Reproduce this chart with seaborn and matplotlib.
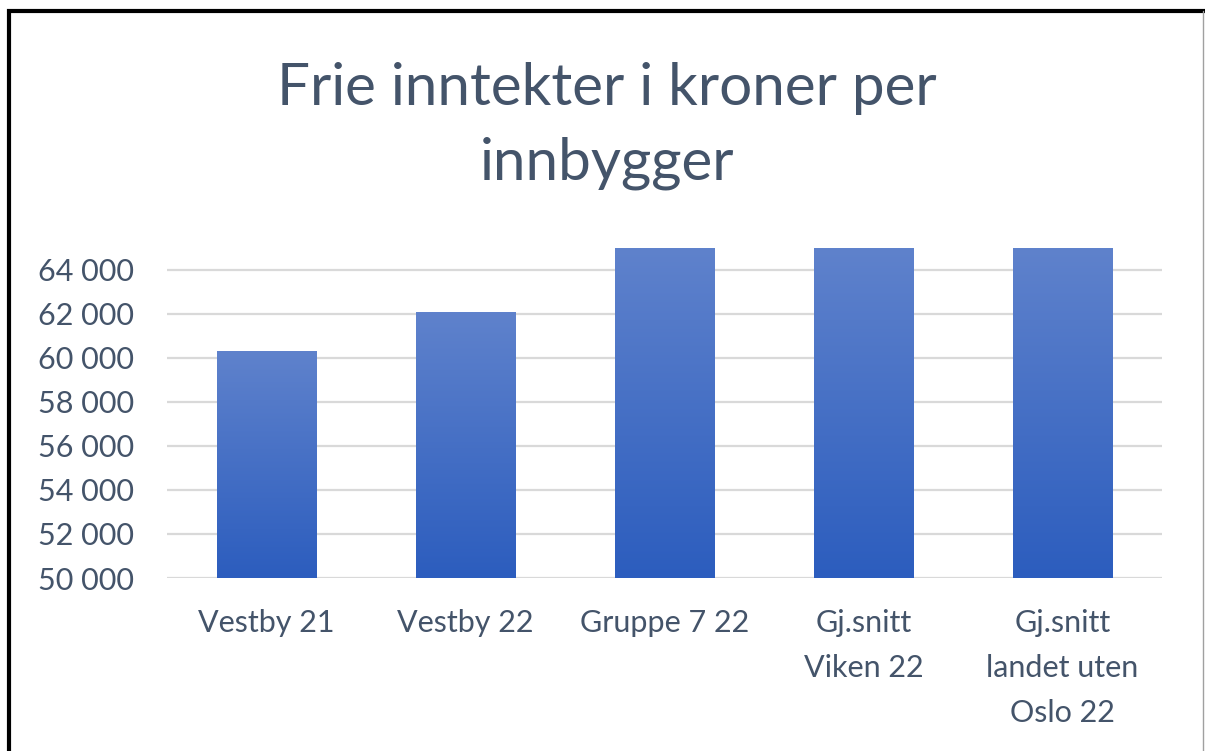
import numpy as np
import pandas as pd
import matplotlib
matplotlib.use("Agg")
import matplotlib.pyplot as plt
import seaborn as sns
from matplotlib.ticker import FuncFormatter, MultipleLocator
from matplotlib.colors import LinearSegmentedColormap
from matplotlib.patches import Rectangle
from matplotlib.lines import Line2D

categories = ["Vestby 21", "Vestby 22", "Gruppe 7 22",
              "Gj.snitt\nViken 22", "Gj.snitt\nlandet uten\nOslo 22"]
values = [60300, 62050, 65000, 65000, 65000]
title = "Frie inntekter i kroner per\ninnbygger"

text_color = "#44546A"
grid_color = "#D9D9D9"
bar_top = "#5F82CC"
bar_bottom = "#2C5DBE"
y_min, y_max = 50000, 65000

sns.set_theme(style="white")
plt.rcParams["font.family"] = ["Lato", "DejaVu Sans"]

df = pd.DataFrame({"kategori": categories, "verdi": values})

fig = plt.figure(figsize=(12.05, 7.51), dpi=100)
ax = fig.add_axes([167 / 1205, 1 - 578 / 751, 995 / 1205, 330 / 751])

sns.barplot(data=df, x="kategori", y="verdi", color=bar_top, width=0.5,
            ax=ax, zorder=3)

ax.set_ylim(y_min, y_max)
ax.yaxis.set_major_locator(MultipleLocator(2000))
ax.yaxis.set_major_formatter(FuncFormatter(lambda v, p: f"{int(v):,}".replace(",", " ")))
for y in range(y_min, 64001, 2000):
    ax.axhline(y, color=grid_color, lw=1.6, zorder=1)

# gradient fill on the visible part of each bar
cmap = LinearSegmentedColormap.from_list("grad", [bar_bottom, bar_top])
grad = np.linspace(0, 1, 256).reshape(-1, 1)
for patch in ax.patches:
    x0, w = patch.get_x(), patch.get_width()
    top = min(patch.get_y() + patch.get_height(), y_max)
    ax.imshow(grad, cmap=cmap, origin="lower", aspect="auto",
              extent=[x0, x0 + w, y_min, top], zorder=4)
    patch.set_alpha(0)
ax.set_xlim(-0.5, len(categories) - 0.5)
ax.set_ylim(y_min, y_max)

for s in ax.spines.values():
    s.set_visible(False)
ax.tick_params(axis="both", length=0, colors=text_color, labelsize=22)
ax.tick_params(axis="y", pad=24)
ax.tick_params(axis="x", pad=22)
for lbl in ax.get_xticklabels():
    lbl.set_linespacing(1.75)
    lbl.set_verticalalignment("top")
ax.set_xlabel("")
ax.set_ylabel("")

fig.text(607 / 1205, 1 - 126 / 751, title, ha="center", va="center",
         fontsize=42, color=text_color, linespacing=1.48)

# outer frame
fig.add_artist(Rectangle((9 / 1205, -0.1), 1.2, 1.1 - 11 / 751,
                         transform=fig.transFigure, fill=False,
                         edgecolor="black", lw=3))
fig.add_artist(Line2D([1203 / 1205, 1203 / 1205], [0, 1 - 11 / 751],
                      transform=fig.transFigure, color="#A0A0A0", lw=1))

fig.savefig("out.png", dpi=100)
